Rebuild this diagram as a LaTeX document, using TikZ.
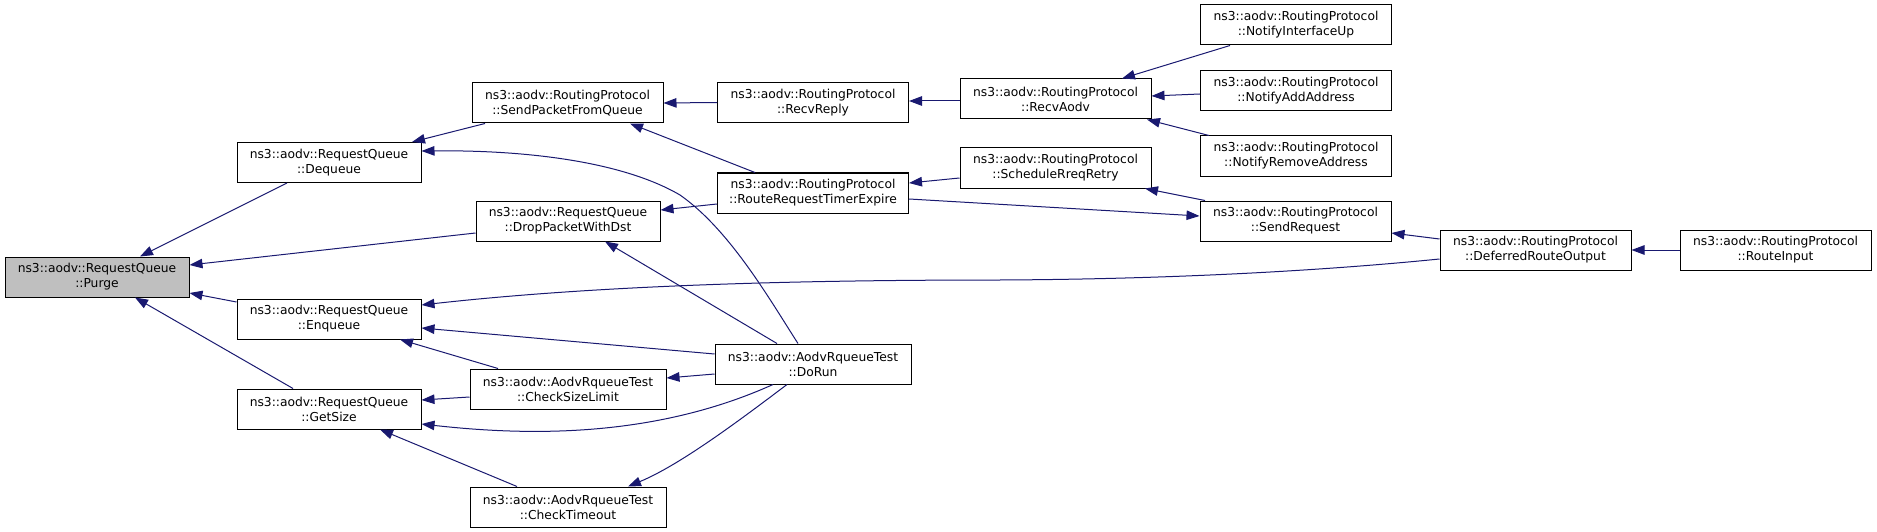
\documentclass[tikz,border=0pt]{standalone}
\usepackage{fontspec}
\setmainfont{DejaVu Sans}
\usetikzlibrary{arrows.meta,calc}
\definecolor{mblue}{HTML}{191970}
\definecolor{rootgray}{HTML}{BFBFBF}
\tikzset{
  fn/.style={draw=black, line width=1pt, fill=white, rectangle, inner sep=0pt,
    minimum height=40pt, align=center, font=\fontsize{12.3}{15}\selectfont},
  rqbox/.style={fn, minimum width=184pt},
  rpbox/.style={fn, minimum width=191pt},
  atbox/.style={fn, minimum width=196pt},
  conn/.style={draw=mblue, line width=1pt, {Triangle[length=13pt,width=9.5pt]}-},
}
\begin{document}
\begin{tikzpicture}[x=1pt,y=-1pt]
\useasboundingbox (0,0) rectangle (1877,532);
% nodes
\node[rqbox, fill=rootgray] (purge) at (97,277) {ns3::aodv::RequestQueue\\::Purge};
\node[rqbox] (deq) at (329,162.5) {ns3::aodv::RequestQueue\\::Dequeue};
\node[rqbox] (enq) at (329,319) {ns3::aodv::RequestQueue\\::Enqueue};
\node[rqbox] (gsz) at (329,409) {ns3::aodv::RequestQueue\\::GetSize};
\node[rpbox] (spq) at (567.5,103) {ns3::aodv::RoutingProtocol\\::SendPacketFromQueue};
\node[rqbox] (drop) at (568,221) {ns3::aodv::RequestQueue\\::DropPacketWithDst};
\node[atbox] (csl) at (568,389) {ns3::aodv::AodvRqueueTest\\::CheckSizeLimit};
\node[atbox] (cto) at (568,507) {ns3::aodv::AodvRqueueTest\\::CheckTimeout};
\node[rpbox] (rrep) at (813,102.5) {ns3::aodv::RoutingProtocol\\::RecvReply};
\node[rpbox] (rrte) at (813,193) {ns3::aodv::RoutingProtocol\\::RouteRequestTimerExpire};
\node[atbox] (dorun) at (813,364) {ns3::aodv::AodvRqueueTest\\::DoRun};
\node[rpbox] (raodv) at (1055.5,99) {ns3::aodv::RoutingProtocol\\::RecvAodv};
\node[rpbox] (srr) at (1055.5,168) {ns3::aodv::RoutingProtocol\\::ScheduleRreqRetry};
\node[rpbox] (niu) at (1296,25) {ns3::aodv::RoutingProtocol\\::NotifyInterfaceUp};
\node[rpbox] (naa) at (1296,90.5) {ns3::aodv::RoutingProtocol\\::NotifyAddAddress};
\node[rpbox] (nra) at (1296,156) {ns3::aodv::RoutingProtocol\\::NotifyRemoveAddress};
\node[rpbox] (sreq) at (1295.5,221) {ns3::aodv::RoutingProtocol\\::SendRequest};
\node[rpbox] (dro) at (1535.5,250) {ns3::aodv::RoutingProtocol\\::DeferredRouteOutput};
\node[rpbox] (rin) at (1775.5,250) {ns3::aodv::RoutingProtocol\\::RouteInput};
% connectors (arrow tip at the first end)
\draw[conn] ($(purge.north)+(43,0)$) -- ($(deq.south)+(-42,0)$);
\draw[conn] ($(purge.east)+(0,-12)$) -- ($(drop.west)+(0,12)$);
\draw[conn] ($(purge.east)+(0,16)$) -- ($(enq.west)+(0,-17)$);
\draw[conn] ($(purge.south)+(38,0)$) -- ($(gsz.north)+(-36,0)$);
\draw[conn] ($(deq.north)+(83,0)$) -- ($(spq.south)+(-82.5,0)$);
\draw[conn] ($(deq.east)+(0,-11.5)$) .. controls (520,150) and (620,160) .. (680,195)
   .. controls (730,230) and (770,300) .. ($(dorun.north)+(-15,0)$);
\draw[conn] (spq.east) -- (rrep.west);
\draw[conn] ($(spq.south)+(62.5,0)$) -- ($(rrte.north)+(-58,0)$);
\draw[conn] ($(rrep.east)+(0,-1.5)$) -- ($(raodv.west)+(0,2)$);
\draw[conn] ($(raodv.north)+(66.5,0)$) -- ($(niu.south)+(-66,0)$);
\draw[conn] ($(raodv.east)+(0,-3)$) -- ($(naa.west)+(0,3.5)$);
\draw[conn] ($(raodv.south)+(91.5,0)$) -- ($(nra.north)+(-87,0)$);
\draw[conn] ($(rrte.east)+(0,-10)$) -- ($(srr.west)+(0,10)$);
\draw[conn] ($(sreq.west)+(0,-5)$) -- ($(rrte.east)+(0,6)$);
\draw[conn] ($(srr.south)+(89.5,0)$) -- ($(sreq.north)+(-90.5,0)$);
\draw[conn] ($(sreq.east)+(0,12)$) -- ($(dro.west)+(0,-11)$);
\draw[conn] (dro.east) -- (rin.west);
\draw[conn] ($(enq.east)+(0,-14)$) .. controls (600,285) and (800,280) .. (1000,280)
   .. controls (1200,279) and (1350,268) .. ($(dro.west)+(0,9)$);
\draw[conn] ($(drop.east)+(0,-11)$) -- ($(rrte.west)+(0,11)$);
\draw[conn] ($(drop.south)+(37,0)$) -- ($(dorun.north)+(-36,0)$);
\draw[conn] ($(enq.east)+(0,9)$) -- ($(dorun.west)+(0,-10)$);
\draw[conn] ($(enq.south)+(71,0)$) -- ($(csl.north)+(-70,0)$);
\draw[conn] ($(gsz.east)+(0,-9)$) -- ($(csl.west)+(0,8)$);
\draw[conn] ($(gsz.east)+(0,15)$) .. controls (520,435) and (650,440) .. ($(dorun.south)+(-40,0)$);
\draw[conn] ($(gsz.south)+(51,0)$) -- ($(cto.north)+(-51,0)$);
\draw[conn] ($(csl.east)+(0,-11)$) -- ($(dorun.west)+(0,10)$);
\draw[conn] ($(cto.north)+(60,0)$) .. controls (680,465) and (740,420) .. ($(dorun.south)+(-26,0)$);
\end{tikzpicture}
\end{document}
